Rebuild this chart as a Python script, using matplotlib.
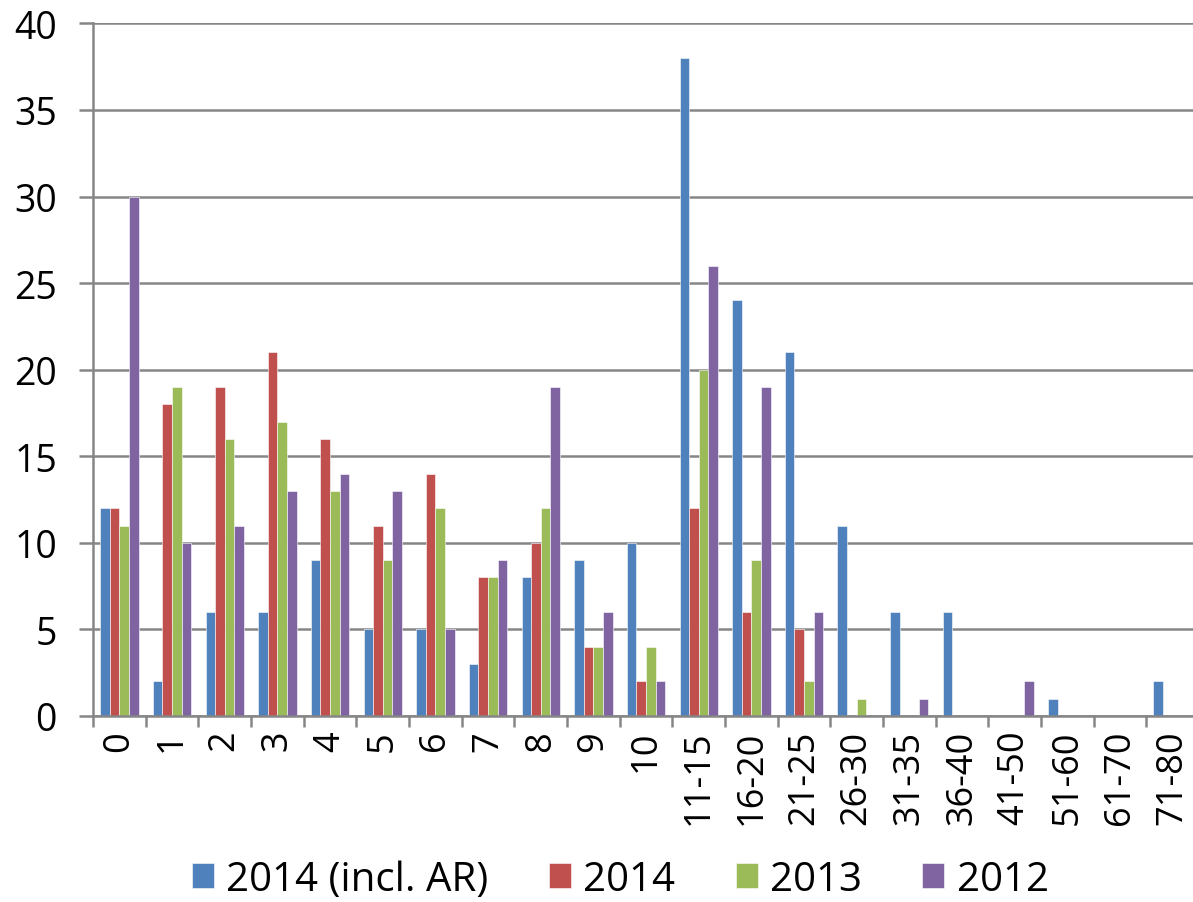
import matplotlib.pyplot as plt
import numpy as np

# ----- дані -----
categories = ['0', '1', '2', '3', '4', '5', '6', '7', '8', '9', '10',
              '11-15', '16-20', '21-25', '26-30', '31-35', '36-40',
              '41-50', '51-60', '61-70', '71-80']
series_names = ['2014 (incl. AR)', '2014', '2013', '2012']
v2014_ar = [12, 2, 6, 6, 9, 5, 5, 3, 8, 9, 10, 38, 24, 21, 11, 6, 6, 0, 1, 0, 2]
v2014 = [12, 18, 19, 21, 16, 11, 14, 8, 10, 4, 2, 12, 6, 5, 0, 0, 0, 0, 0, 0, 0]
v2013 = [11, 19, 16, 17, 13, 9, 12, 8, 12, 4, 4, 20, 9, 2, 1, 0, 0, 0, 0, 0, 0]
v2012 = [30, 10, 11, 13, 14, 13, 5, 9, 19, 6, 2, 26, 19, 6, 0, 1, 0, 2, 0, 0, 0]
colors = ['#4f81bd', '#c0504d', '#9bbb59', '#8064a2']

plt.rcParams['font.family'] = ['Open Sans', 'DejaVu Sans']

fig = plt.figure(figsize=(11.93, 9.03), dpi=100)
# права частина осі виходить за межі малюнка, як в оригіналі
ax = fig.add_axes([0.078, 0.206, 0.927, 0.767])

x = np.arange(len(categories))
w = 0.182
for i, (vals, name) in enumerate(zip([v2014_ar, v2014, v2013, v2012], series_names)):
    ax.bar(x + (i - 1.5) * w, vals, w, color=colors[i], label=name,
           edgecolor='white', linewidth=0.4)

ax.set_xlim(-0.5, len(categories) - 0.5)
ax.set_ylim(0, 40)
ax.set_yticks(range(0, 41, 5))
ax.yaxis.grid(True, color='#868686', linewidth=1.8)
ax.set_axisbelow(True)

ax.set_xticks(x)
ax.set_xticklabels(categories, rotation=90, fontsize=26)
ax.set_xticks(np.arange(-0.5, len(categories), 1), minor=True)
ax.tick_params(axis='x', which='major', length=0, pad=10)
ax.tick_params(axis='x', which='minor', length=8, width=1.8, color='#868686')
ax.tick_params(axis='y', labelsize=27, length=10, width=1.8, color='#868686', pad=16)

for s in ['top', 'right']:
    ax.spines[s].set_visible(False)
for s in ['left', 'bottom']:
    ax.spines[s].set_color('#868686')
    ax.spines[s].set_linewidth(1.8)

fig.legend(loc='center', ncol=4, bbox_to_anchor=(0.52, 0.025), frameon=False,
           fontsize=29, handlelength=0.55, handleheight=0.6, handletextpad=0.3,
           columnspacing=1.5)

plt.savefig('out.png', dpi=100)
